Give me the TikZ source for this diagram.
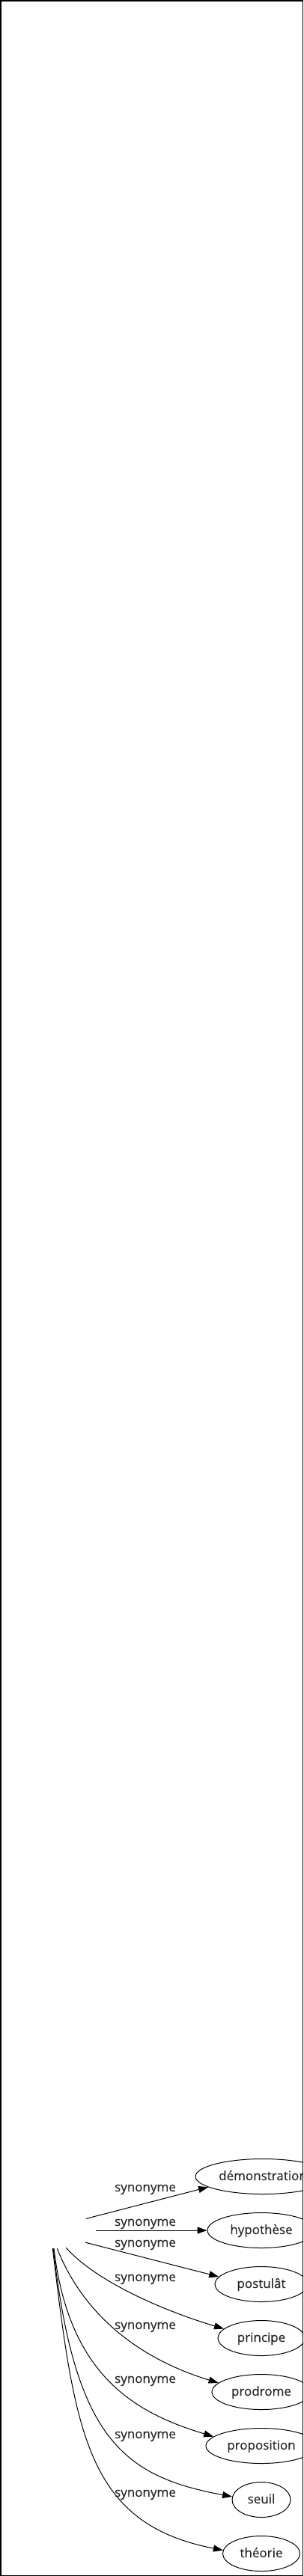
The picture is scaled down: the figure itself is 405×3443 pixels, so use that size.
\documentclass[tikz,border=0pt]{standalone}
\usepackage{fontspec}
\setmainfont[FakeBold=0.3]{Open Sans}
\usetikzlibrary{arrows.meta,shapes.geometric}
\begin{document}
\begin{tikzpicture}[x=1pt,y=-1pt,
  txt/.style={font=\fontsize{17}{20}\selectfont, text=black!85},
  word/.style={ellipse, draw, line width=1pt, txt, inner xsep=-30pt, inner ysep=0pt,
    minimum height=47pt, text height=12pt, text depth=2pt},
  lab/.style={txt, anchor=base, inner sep=0pt},
  link/.style={line width=1pt, -{Triangle[length=13pt,width=9pt]}}]
\useasboundingbox (0,0) rectangle (405,3443);
\begin{scope}
\clip (0,0) rectangle (405,3443);
\node[ellipse, minimum width=112pt, minimum height=48pt, inner sep=0pt] (src) at (72,2981) {};
\node[word, minimum width=180pt] (dem) at (351,2909) {démonstration};
\node[word, minimum width=144pt] (hyp) at (349,2981) {hypothèse};
\node[word, minimum width=124pt] (post) at (349,3053) {postulât};
\node[word, minimum width=116pt] (princ) at (349,3125) {principe};
\node[word, minimum width=132pt] (prod) at (349,3197) {prodrome};
\node[word, minimum width=148pt] (prop) at (349,3269) {proposition};
\node[word, minimum width=78pt] (seuil) at (349,3341) {seuil};
\node[word, minimum width=103pt] (theo) at (349,3413) {théorie};

\node[lab] (l1) at (194,2929) {synonyme};
\node[lab] (l2) at (194,2975) {synonyme};
\node[lab] (l3) at (194,3003) {synonyme};
\node[lab] (l4) at (194,3049) {synonyme};
\node[lab] (l5) at (194,3113) {synonyme};
\node[lab] (l6) at (194,3185) {synonyme};
\node[lab] (l7) at (194,3259) {synonyme};
\node[lab] (l8) at (194,3337) {synonyme};

\draw[link] (src.20) -- (dem.191);
\draw[link] (src.east) -- (hyp.west);
\draw[link] (src.-21) -- (post.170);
\draw[link] (src.-55) .. controls (128,3049) and (217,3088) .. (princ.166);
\draw[link] (src.-80.5) .. controls (116,3105) and (200,3157) .. (prod.168);
\draw[link] (src.-90) .. controls (92,3175) and (180,3225) .. (prop.169.5);
\draw[link] (src.-92) .. controls (100,3260) and (165,3310) .. (seuil.174);
\draw[link] (src.-94) .. controls (100,3255) and (117,3373) .. (theo.175.7);
\end{scope}
\draw[line width=1.5pt] (0.75,0.75) rectangle (404.25,3442.25);
\end{tikzpicture}
\end{document}
